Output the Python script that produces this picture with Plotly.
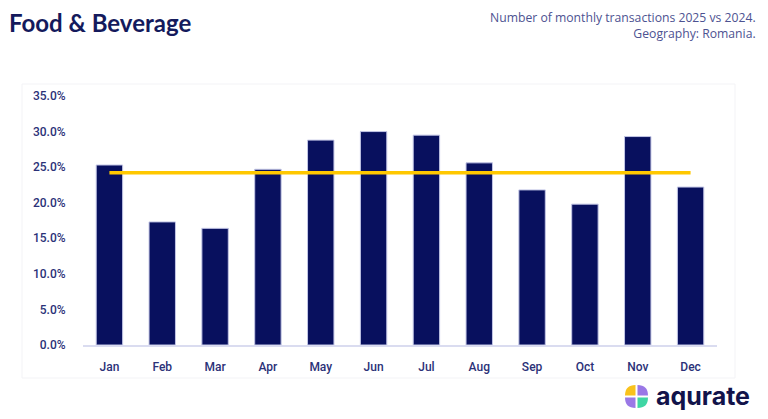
import plotly.graph_objects as go

# Chart data
months = ["Jan", "Feb", "Mar", "Apr", "May", "Jun", "Jul", "Aug", "Sep", "Oct", "Nov", "Dec"]
growth_pct = [25.3, 17.3, 16.4, 24.7, 28.8, 30.0, 29.5, 25.6, 21.8, 19.8, 29.3, 22.2]
avg_pct = 24.2

W, H = 768, 419
L, R, T, B = 83, 51, 96, 74
PW, PH = W - L - R, H - T - B
NAVY = "#08105e"
LABEL = "#2b3178"


def px(x, y):
    # pixel position in the page -> paper coords (paper = plot area)
    return (x - L) / PW, (H - B - y) / PH


fig = go.Figure()

fig.add_trace(go.Bar(
    x=months, y=growth_pct,
    marker=dict(color=NAVY, line=dict(color="#c3c6e6", width=1)),
    width=0.5,
    hoverinfo="skip",
))

fig.add_trace(go.Scatter(
    x=months, y=[avg_pct] * len(months),
    mode="lines",
    line=dict(color="#ffc800", width=3.5),
    hoverinfo="skip",
))

# faint frame around the chart area
x0, y1 = px(22, 84)
x1, y0 = px(735, 378)
shapes = [dict(type="rect", xref="paper", yref="paper", x0=x0, x1=x1, y0=y0, y1=y1,
               line=dict(color="#f3f3f6", width=1), layer="below")]

# logo icon: four quadrants of a rounded square
cx, cy, r, g = 636.5, 396.5, 11.5, 1.0
quads = [(-1, -1, "#f9c21c"), (1, -1, "#9a78e6"), (-1, 1, "#9a78e6"), (1, 1, "#3fd6a4")]
for sx, sy, col in quads:
    ax, ay = px(cx + sx * g, cy + sy * g)
    bx, by = px(cx + sx * g, cy + sy * r)
    kx, ky = px(cx + sx * r, cy + sy * r)
    dx, dy = px(cx + sx * r, cy + sy * g)
    path = f"M{ax},{ay} L{bx},{by} Q{kx},{ky} {dx},{dy} Z"
    shapes.append(dict(type="path", xref="paper", yref="paper", path=path,
                       fillcolor=col, line=dict(width=0)))

annotations = [
    dict(text="<b>Food &amp; Beverage</b>", x=px(7, 0)[0], y=px(0, 22)[1],
         xref="paper", yref="paper", xanchor="left", yanchor="middle", showarrow=False,
         font=dict(family="Lato", size=24, color="#141a5c")),
    dict(text="Number of monthly transactions 2025 vs 2024.<br>Geography: Romania.",
         x=px(758, 0)[0], y=px(0, 25)[1], xref="paper", yref="paper",
         xanchor="right", yanchor="middle", align="right", showarrow=False,
         font=dict(family="Open Sans", size=12.2, color="#4d5291")),
    dict(text="<b>aqurate</b>", x=px(654, 0)[0], y=px(0, 396)[1],
         xref="paper", yref="paper", xanchor="left", yanchor="middle", showarrow=False,
         font=dict(family="Inter", size=25, color="#12134a")),
]

fig.update_layout(
    width=W, height=H,
    paper_bgcolor="white", plot_bgcolor="white",
    margin=dict(l=L, r=R, t=T, b=B),
    showlegend=False,
    bargap=0.5,
    shapes=shapes,
    annotations=annotations,
    xaxis=dict(
        showgrid=False, showline=True, linecolor="#dadcf0", linewidth=1.5,
        ticks="outside", ticklen=10, tickcolor="rgba(0,0,0,0)",
        tickfont=dict(family="Roboto", size=12, color=LABEL, weight=500),
        range=[-0.5, 11.5], fixedrange=True,
    ),
    yaxis=dict(
        range=[0, 35], dtick=5, tickformat=".1f", ticksuffix="%",
        showgrid=False, zeroline=False, showline=False,
        ticks="outside", ticklen=14, tickcolor="rgba(0,0,0,0)",
        tickfont=dict(family="Roboto", size=12, color=LABEL, weight=500),
        fixedrange=True,
    ),
)

fig.write_html("out.html", config={"displayModeBar": False},
               post_script="document.body.style.margin='0';")
